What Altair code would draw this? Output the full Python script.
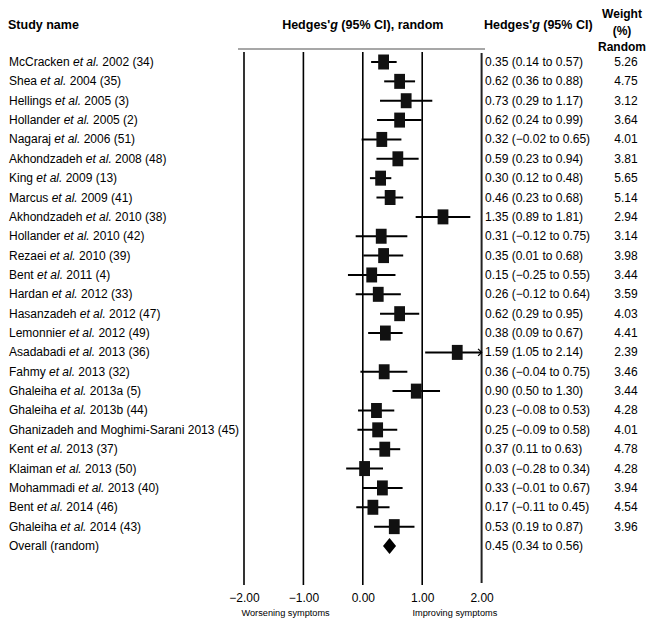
import altair as alt
import pandas as pd

# ---------------- data ----------------
authors = ["McCracken", "Shea", "Hellings", "Hollander", "Nagaraj", "Akhondzadeh", "King",
           "Marcus", "Akhondzadeh", "Hollander", "Rezaei", "Bent", "Hardan", "Hasanzadeh",
           "Lemonnier", "Asadabadi", "Fahmy", "Ghaleiha", "Ghaleiha",
           "Ghanizadeh and Moghimi-Sarani", "Kent", "Klaiman", "Mohammadi", "Bent", "Ghaleiha"]
etal = [True] * 19 + [False] + [True] * 5
years = ["2002", "2004", "2005", "2005", "2006", "2008", "2009", "2009", "2010", "2010", "2010",
         "2011", "2012", "2012", "2012", "2013", "2013", "2013a", "2013b", "2013", "2013", "2013",
         "2013", "2014", "2014"]
refs = [34, 35, 3, 2, 51, 48, 13, 41, 38, 42, 39, 4, 33, 47, 49, 36, 32, 5, 44, 45, 37, 50, 40, 46, 43]
g = [0.35, 0.62, 0.73, 0.62, 0.32, 0.59, 0.30, 0.46, 1.35, 0.31, 0.35, 0.15, 0.26, 0.62, 0.38,
     1.59, 0.36, 0.90, 0.23, 0.25, 0.37, 0.03, 0.33, 0.17, 0.53]
lo = [0.14, 0.36, 0.29, 0.24, -0.02, 0.23, 0.12, 0.23, 0.89, -0.12, 0.01, -0.25, -0.12, 0.29, 0.09,
      1.05, -0.04, 0.50, -0.08, -0.09, 0.11, -0.28, -0.01, -0.11, 0.19]
hi = [0.57, 0.88, 1.17, 0.99, 0.65, 0.94, 0.48, 0.68, 1.81, 0.75, 0.68, 0.55, 0.64, 0.95, 0.67,
      2.14, 0.75, 1.30, 0.53, 0.58, 0.63, 0.34, 0.67, 0.45, 0.87]
weights = [5.26, 4.75, 3.12, 3.64, 4.01, 3.81, 5.65, 5.14, 2.94, 3.14, 3.98, 3.44, 3.59, 4.03, 4.41,
           2.39, 3.46, 3.44, 4.28, 4.01, 4.78, 4.28, 3.94, 4.54, 3.96]
overall_label = "Overall (random)"
overall = {"g": 0.45, "lo": 0.34, "hi": 0.56}
ticks = [-2, -1, 0, 1, 2]
footer_left = "Worsening symptoms"
footer_right = "Improving symptoms"

# ---------------- helpers ----------------
FONT = "Liberation Sans"
REG = {" ": 278, "'": 191, "(": 333, ")": 333, ",": 278, "-": 333, ".": 278, "%": 889}
for d in "0123456789":
    REG[d] = 556
REG.update(dict(zip("ABCDEFGHIJKLMNOPQRSTUVWXYZ",
                    [667, 667, 722, 722, 667, 611, 778, 722, 278, 500, 667, 556, 833, 722, 778,
                     667, 778, 722, 667, 611, 722, 667, 944, 667, 667, 611])))
REG.update(dict(zip("abcdefghijklmnopqrstuvwxyz",
                    [556, 556, 500, 556, 556, 278, 556, 556, 222, 222, 500, 222, 833, 556, 556,
                     556, 556, 333, 500, 278, 556, 500, 722, 500, 500, 500])))
BOLD = {" ": 278, "'": 238, "(": 333, ")": 333, ",": 278, "%": 889, ".": 278}
for d in "0123456789":
    BOLD[d] = 556
BOLD.update({"C": 722, "H": 722, "I": 278, "R": 722, "S": 667, "W": 944,
             "a": 556, "d": 611, "e": 556, "g": 611, "h": 611, "i": 278, "m": 889, "n": 611,
             "o": 611, "r": 389, "s": 556, "t": 333, "u": 611, "y": 556, "w": 778, "l": 278})


def tw(s, size, table=REG):
    return sum(table.get(c, 556) for c in s) * size / 1000.0


def fmt(v):
    s = f"{abs(v):.2f}"
    return ("\u2212" + s) if v < 0 else s


NAME_SIZE = 12
X0 = 1  # left start of names (px)

rows = []
for i in range(len(authors)):
    a = authors[i]
    if etal[i]:
        seg2 = "et al."
        x2 = X0 + tw(a + " ", NAME_SIZE)
        x3 = X0 + tw(a + " et al. ", NAME_SIZE)
    else:
        seg2 = ""
        x2 = X0
        x3 = X0 + tw(a + " ", NAME_SIZE)
    rows.append({
        "row": i, "author": a, "etal": seg2, "rest": f"{years[i]} ({refs[i]})",
        "x1": X0, "x2": x2, "x3": x3,
        "g": g[i], "lo": lo[i], "hi": hi[i], "hi_c": min(hi[i], 2.0),
        "ci": f"{fmt(g[i])} ({fmt(lo[i])} to {fmt(hi[i])})",
        "w": f"{weights[i]:.2f}", "arrow": hi[i] > 2.0,
    })
df = pd.DataFrame(rows)
N = len(authors)
odf = pd.DataFrame([{"row": N, "label": overall_label, "g": overall["g"], "lo": overall["lo"],
                     "hi": overall["hi"],
                     "ci": f"{fmt(overall['g'])} ({fmt(overall['lo'])} to {fmt(overall['hi'])})"}])

# ---------------- scales ----------------
XR = [236, 473.6]
xs = alt.Scale(domain=[-2, 2], range=XR)
ys = alt.Scale(domain=[0, N], range=[54, 538])
Y = alt.Y("row:Q", scale=ys, axis=None)
PLOT_BOTTOM = 577
SVG_H = 614

grid_df = pd.DataFrame({"t": ticks})

grid = alt.Chart(grid_df).transform_filter("datum.t < 2").mark_rule(
    color="#000", strokeWidth=1.6).encode(
    x=alt.X("t:Q", scale=xs, axis=None), y=alt.value(44), y2=alt.value(PLOT_BOTTOM))

border = alt.Chart(grid_df).transform_filter("datum.t == 2").mark_rule(
    color="#222", strokeWidth=2).encode(
    x=alt.X("t:Q", scale=xs, axis=None), y=alt.value(45), y2=alt.value(575))

axis_layer = alt.Chart(grid_df).mark_point(opacity=0).encode(
    x=alt.X("t:Q", scale=xs,
            axis=alt.Axis(values=ticks, domain=False, ticks=False, grid=False,
                          labelFont=FONT, labelFontSize=12, labelColor="#000",
                          labelPadding=7, title=None, orient="bottom",
                          labelFlush=False, labelOverlap=False, labelBound=False,
                          labelExpr="datum.value < 0 ? '\u2212' + format(-datum.value, '.2f') : format(datum.value, '.2f')")),
    y=alt.value(PLOT_BOTTOM))

topline = alt.Chart(grid_df).transform_filter("datum.t == 0").mark_rule(
    color="#8a8a8a", strokeWidth=1.6).encode(
    x=alt.value(230), x2=alt.value(477), y=alt.value(41))

ci = alt.Chart(df).mark_rule(color="#000", strokeWidth=2).encode(
    x=alt.X("lo:Q", scale=xs, axis=None), x2="hi_c:Q", y=Y)

RECT = "M-0.72,-1L0.72,-1L0.72,1L-0.72,1Z"
boxes = alt.Chart(df).mark_point(shape=RECT, filled=True, color="#111", opacity=1, size=225,
                                 strokeWidth=0).encode(
    x=alt.X("g:Q", scale=xs, axis=None), y=Y)

arrow = alt.Chart(df).transform_filter("datum.arrow").mark_point(
    shape="M-1,-1L0,0L-1,1", filled=False, color="#000", strokeWidth=1.3, size=49, opacity=1).encode(
    x=alt.X("hi_c:Q", scale=xs, axis=None), y=Y)

diamond = alt.Chart(odf).mark_point(
    shape="M-0.82,0L0,-1L0.82,0L0,1Z", filled=True, color="#000", opacity=1, size=256,
    strokeWidth=0).encode(
    x=alt.X("g:Q", scale=xs, axis=None), y=Y)

tbase = dict(font=FONT, fontSize=NAME_SIZE, baseline="middle", align="left", color="#000")
name1 = alt.Chart(df).mark_text(**tbase).encode(
    x=alt.X("x1:Q", scale=None, axis=None), y=Y, text="author:N")
name2 = alt.Chart(df).mark_text(fontStyle="italic", **tbase).encode(
    x=alt.X("x2:Q", scale=None, axis=None), y=Y, text="etal:N")
name3 = alt.Chart(df).mark_text(**tbase).encode(
    x=alt.X("x3:Q", scale=None, axis=None), y=Y, text="rest:N")
olab = alt.Chart(odf).mark_text(**tbase).encode(x=alt.value(X0), y=Y, text="label:N")

ci_txt = alt.Chart(df).mark_text(**tbase).encode(x=alt.value(477), y=Y, text="ci:N")
oci_txt = alt.Chart(odf).mark_text(**tbase).encode(x=alt.value(477), y=Y, text="ci:N")
w_txt = alt.Chart(df).mark_text(font=FONT, fontSize=NAME_SIZE, baseline="middle", align="center",
                                color="#000").encode(x=alt.value(618), y=Y, text="w:N")

# ---------------- headers ----------------
HS = 12.5
hdr = []


def htext(txt, x, y, italic=False, align="left", size=HS):
    d = pd.DataFrame({"t": [txt]})
    kw = dict(font=FONT, fontSize=size, fontWeight="bold", baseline="middle", align=align, color="#000")
    if italic:
        kw["fontStyle"] = "italic"
    return alt.Chart(d).mark_text(**kw).encode(x=alt.value(x), y=alt.value(y), text="t:N")


HY = 17
hdr.append(htext("Study name", 0, HY))
# centered "Hedges'g (95% CI), random"
p1, p2, p3 = "Hedges'", "g", "(95% CI), random"
total = tw(p1 + p2 + " " + p3, HS, BOLD)
sx = (XR[0] + XR[1]) / 2 - total / 2
hdr.append(htext(p1, sx, HY))
hdr.append(htext(p2, sx + tw(p1, HS, BOLD), HY, italic=True))
hdr.append(htext(p3, sx + tw(p1 + p2 + " ", HS, BOLD), HY))
# column header "Hedges'g (95% CI)"
cx = 476
q3 = "(95% CI)"
hdr.append(htext(p1, cx, HY))
hdr.append(htext(p2, cx + tw(p1, HS, BOLD), HY, italic=True))
hdr.append(htext(q3, cx + tw(p1 + p2 + " ", HS, BOLD), HY))
# weight header
for k, t in enumerate(["Weight", "(%)", "Random"]):
    hdr.append(htext(t, 614, 6 + k * 16.5, align="center", size=12))

# footers
fdf = pd.DataFrame({"x": [-1.3, 1.55], "t": [footer_left, footer_right]})
foot = alt.Chart(fdf).mark_text(font=FONT, fontSize=9.2, baseline="middle", align="center",
                                color="#000").encode(
    x=alt.X("x:Q", scale=xs, axis=None), y=alt.value(605), text="t:N")

chart = alt.layer(
    grid, border, topline, axis_layer, ci, boxes, arrow, diamond,
    name1, name2, name3, olab, ci_txt, oci_txt, w_txt, foot, *hdr
).resolve_scale(x="independent").properties(
    width=639, height=PLOT_BOTTOM, autosize="none",
    padding={"left": 0, "top": 0, "right": 0, "bottom": SVG_H - PLOT_BOTTOM},
).configure_view(stroke=None)

chart.save("out.html", embed_options={"renderer": "svg", "actions": False})
